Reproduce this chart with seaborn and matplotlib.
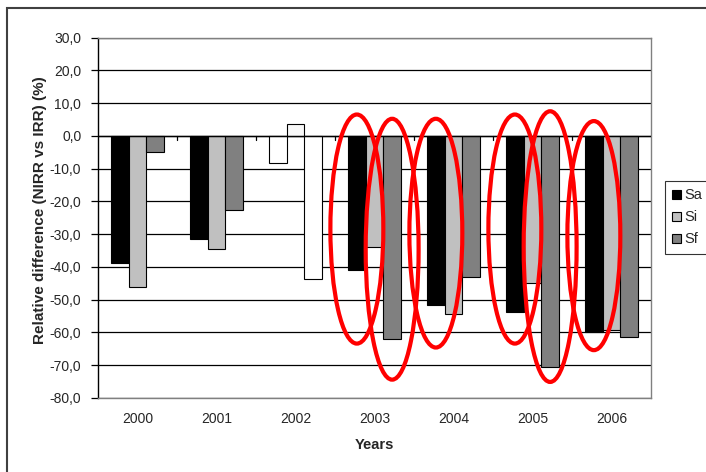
import pandas as pd
import numpy as np
import seaborn as sns
import matplotlib.pyplot as plt
from matplotlib.patches import Ellipse, Rectangle
from matplotlib.ticker import FuncFormatter

# values (%)
years = ['2000', '2001', '2002', '2003', '2004', '2005', '2006']
sa = [-38.8, -31.5, -8.4, -40.8, -51.7, -53.9, -60.0]
si = [-46.1, -34.6, 3.7, -33.9, -54.3, -44.9, -59.3]
sf = [-5.0, -22.7, -43.6, -62.0, -43.2, -70.5, -61.3]
series = ['Sa', 'Si', 'Sf']
colors = ['#000000', '#c0c0c0', '#808080']

# red rings drawn over the chart: (year, series, top, bottom)
rings = [('2003', 'Sa', 6.5, -63.4), ('2003', 'Sf', 5.2, -74.4),
         ('2004', 'Sa', 5.2, -64.6), ('2005', 'Sa', 6.5, -63.4),
         ('2005', 'Sf', 7.5, -75.1), ('2006', 'Sa', 4.5, -65.4)]

df = pd.DataFrame({'Year': years * 3,
                   'Series': ['Sa'] * 7 + ['Si'] * 7 + ['Sf'] * 7,
                   'Value': sa + si + sf})

sns.set_style('white')
plt.rcParams['font.family'] = ['Liberation Sans', 'DejaVu Sans']

fig = plt.figure(figsize=(7.06, 4.72), dpi=100)
ax = fig.add_axes([98/706, 1-398/472, (651-98)/706, (398-37.5)/472])

sns.barplot(data=df, x='Year', y='Value', hue='Series', order=years,
            hue_order=series, palette=colors, width=0.67, saturation=1,
            edgecolor='black', linewidth=0.8, ax=ax, zorder=3)

# 2002 bars drawn blank
for c in ax.containers:
    c[2].set_facecolor('white')
ax.containers[1][2].set_facecolor('#f8f8f8')

ax.set_ylim(-80, 30)
ax.set_xlim(-0.5, 6.5)
ax.set_yticks(np.arange(-80, 31, 10))
ax.yaxis.set_major_formatter(FuncFormatter(lambda v, p: f'{v:.1f}'.replace('.', ',')))
ax.grid(axis='y', color='black', linewidth=0.9, zorder=0)
ax.axhline(0, color='black', linewidth=1.0, zorder=4)
for b in np.arange(0.5, 6, 1):
    ax.plot([b, b], [0, -1.3], color='black', linewidth=0.9, zorder=4)

ax.tick_params(axis='y', length=5, width=0.9, color='black', pad=7, labelsize=10, left=True)
ax.tick_params(axis='x', length=0, pad=10, labelsize=10)
for s in ['top', 'right', 'bottom']:
    ax.spines[s].set_color('#808080')
    ax.spines[s].set_linewidth(1.0)
ax.spines['left'].set_color('black')
ax.spines['left'].set_linewidth(1.0)

ax.set_xlabel('Years', fontsize=10.5, fontweight='bold')
ax.set_ylabel('Relative difference (NIRR vs IRR) (%)', fontsize=11, fontweight='bold')
ax.xaxis.set_label_coords(0.5, -0.111)
ax.yaxis.set_label_coords(-0.092, 0.52)

# red rings
for yr, s, top, bot in rings:
    bar = ax.containers[series.index(s)][years.index(yr)]
    cx = bar.get_x() + bar.get_width() / 2
    e = Ellipse((cx, (top + bot) / 2), width=bar.get_width() * 3, height=top - bot,
                fill=False, edgecolor='#ff0000', linewidth=3, zorder=6, clip_on=False)
    ax.add_patch(e)

ax.legend(loc='upper left', bbox_to_anchor=(665/706, 1-181/472),
          bbox_transform=fig.transFigure, fontsize=10.5, frameon=True,
          fancybox=False, edgecolor='black', handlelength=0.6, handleheight=0.6,
          handletextpad=0.2, labelspacing=0.55, borderpad=0.5, borderaxespad=0,
          title=None)
ax.get_legend().get_frame().set_linewidth(0.8)

# outer chart border
fig.patches.append(Rectangle((7/706, -0.1), 1.2, 1 - 8/472 + 0.1, transform=fig.transFigure,
                             fill=False, edgecolor='#404040', linewidth=1.5))

fig.savefig('out.png', dpi=100)
